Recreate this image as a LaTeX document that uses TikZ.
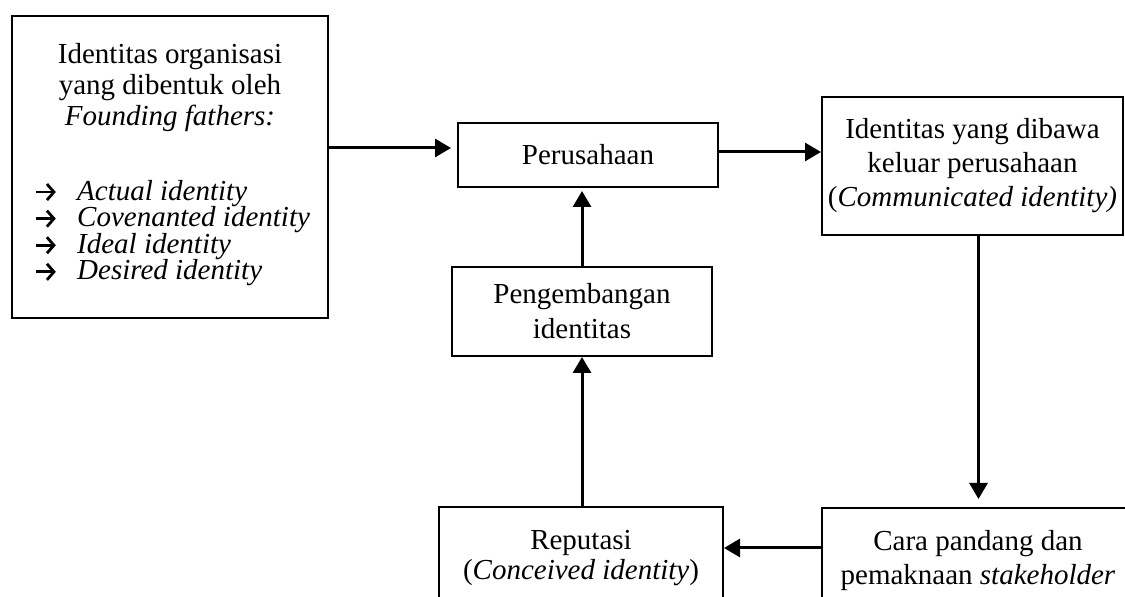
\documentclass[tikz,border=0pt]{standalone}
\usepackage{fontspec}
\setmainfont{Liberation Serif}
\usetikzlibrary{arrows.meta}
\newcommand{\larr}{\tikz[baseline=-0.6ex]\draw[line width=1.4pt,-{Straight Barb[length=3.5pt,width=8pt,line width=1.4pt]}] (0pt,0pt)--(10pt,0pt);\hspace{10pt}}
\begin{document}
\begin{tikzpicture}[x=0.5pt,y=-0.5pt,
  box/.style={draw,line width=1pt,inner sep=0pt},
  txt/.style={align=center,font=\fontsize{14.5}{17}\selectfont,inner sep=0pt},
  arr/.style={line width=1.5pt,-{Triangle[length=8pt,width=9pt]}}]
\clip (0,0) rectangle (1125,597);
% boxes
\node[box,minimum width=158pt,minimum height=151pt] (org) at (170,167) {};
\node[txt,font=\fontsize{14.5}{15.5}\selectfont] (orgtitle) at (170,88) {Identitas organisasi\\yang dibentuk oleh\\\textit{Founding fathers:}};
\node[txt,align=left,anchor=west,font=\fontsize{14.5}{13.3}\selectfont] (orglist) at (34,233)
  {\larr\textit{Actual identity}\\\larr\textit{Covenanted identity}\\\larr\textit{Ideal identity}\\\larr\textit{Desired identity}};
\node[box,txt,minimum width=130pt,minimum height=32pt] (per) at (588,155) {Perusahaan};
\node[box,txt,minimum width=150.5pt,minimum height=69pt] (comm) at (972.5,166)
  {Identitas yang dibawa\\keluar perusahaan\\(\textit{Communicated identity)}};
\node[box,txt,font=\fontsize{14.5}{17.5}\selectfont,minimum width=130pt,minimum height=44.5pt] (peng) at (582,311.5) {Pengembangan\\identitas};
\node[box,minimum width=142pt,minimum height=66.5pt] (rep) at (581,573.5) {};
\node[txt,font=\fontsize{14.5}{15}\selectfont] (reptext) at (581,558) {Reputasi\\(\textit{Conceived identity})};
\node[box,minimum width=156pt,minimum height=66pt] (cara) at (978,574) {};
\node[txt] (caratext) at (978,561) {Cara pandang dan\\pemaknaan \textit{stakeholder}};
% connectors
\draw[arr] ([yshift=3.5pt]per.west -| org.east) -- ([yshift=3.5pt,xshift=-3pt]per.west);
\draw[arr] ([yshift=1.5pt]per.east) -- ([yshift=1.5pt]per.east -| comm.west);
\draw[arr] ([xshift=3pt]comm.south) -- ([xshift=3pt,yshift=4pt]comm.south |- cara.north);
\draw[arr] ([yshift=13pt]cara.west) -- ([yshift=13pt]cara.west -| rep.east);
\draw[arr] ([xshift=0.5pt]rep.north) -- ([xshift=0.5pt]rep.north |- peng.south);
\draw[arr] (peng.north) -- ([yshift=-1.5pt]peng.north |- per.south);
\end{tikzpicture}
\end{document}
